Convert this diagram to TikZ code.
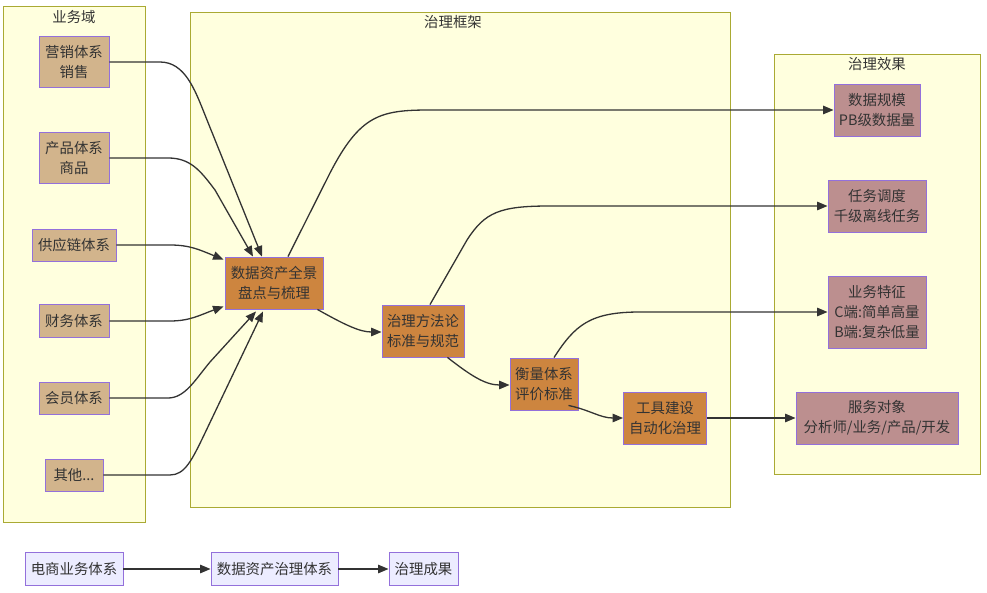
\documentclass[tikz,border=0pt]{standalone}
\usepackage{fontspec}
\setmainfont{Noto Sans CJK SC}
\usetikzlibrary{arrows.meta,calc}
\definecolor{txt}{HTML}{333333}
\definecolor{clfill}{HTML}{FFFFDE}
\definecolor{cldraw}{HTML}{AAAA33}
\definecolor{nborder}{HTML}{9370DB}
\definecolor{tan}{HTML}{D2B48C}
\definecolor{orng}{HTML}{CD853F}
\definecolor{rosy}{HTML}{BC8F8F}
\definecolor{lav}{HTML}{ECECFF}
\tikzset{
  cluster/.style={draw=cldraw, fill=clfill, line width=0.9pt, anchor=north west, inner sep=0pt},
  ctitle/.style={text=txt, inner sep=0pt},
  base/.style={draw=nborder, line width=0.9pt, text=txt, align=center, inner sep=0pt, font=\fontsize{14.4}{20}\selectfont},
  biz/.style={base, fill=tan},
  gov/.style={base, fill=orng},
  eff/.style={base, fill=rosy},
  leg/.style={base, fill=lav},
  conn/.style={draw=txt, line width=1.3pt, -{Triangle[length=10.5pt,width=8.5pt]}},
}
\begin{document}
\begin{tikzpicture}[x=1pt,y=-1pt, font=\fontsize{14.4}{20}\selectfont]
\useasboundingbox (0,0) rectangle (987,593);
\fill[white] (0,0) rectangle (987,593);
% clusters
\node[cluster, minimum width=142, minimum height=516] (c1) at (3,6) {};
\node[ctitle] (t1) at (74,17) {业务域};
\node[cluster, minimum width=540, minimum height=495] (c2) at (190,12) {};
\node[ctitle] (t2) at (453,22) {治理框架};
\node[cluster, minimum width=206, minimum height=420] (c3) at (774,54) {};
\node[ctitle] (t3) at (877,64) {治理效果};
% business nodes
\node[biz, minimum width=70, minimum height=51] (m) at (74,62) {营销体系\\销售};
\node[biz, minimum width=70, minimum height=51] (p) at (74,158) {产品体系\\商品};
\node[biz, minimum width=84, minimum height=32] (s) at (74,245) {供应链体系};
\node[biz, minimum width=70, minimum height=33] (f) at (74,321) {财务体系};
\node[biz, minimum width=70, minimum height=32] (v) at (74,398) {会员体系};
\node[biz, minimum width=58, minimum height=32] (o) at (74,475) {其他...};
% governance nodes
\node[gov, minimum width=98, minimum height=52] (dz) at (274,283) {数据资产全景\\盘点与梳理};
\node[gov, minimum width=82, minimum height=52] (ff) at (423,331) {治理方法论\\标准与规范};
\node[gov, minimum width=68, minimum height=52] (hl) at (544,384) {衡量体系\\评价标准};
\node[gov, minimum width=83, minimum height=52] (gj) at (665,418) {工具建设\\自动化治理};
% effect nodes
\node[eff, minimum width=86, minimum height=52] (e1) at (877,110) {数据规模\\PB级数据量};
\node[eff, minimum width=98, minimum height=52] (e2) at (877,206) {任务调度\\千级离线任务};
\node[eff, minimum width=98, minimum height=72] (e3) at (877,312) {业务特征\\C端:简单高量\\B端:复杂低量};
\node[eff, minimum width=162, minimum height=52] (e4) at (877,418) {服务对象\\分析师/业务/产品/开发};
% legend
\node[leg, minimum width=98, minimum height=33] (l1) at (74,569) {电商业务体系};
\node[leg, minimum width=127, minimum height=33] (l2) at (274.5,569) {数据资产治理体系};
\node[leg, minimum width=69, minimum height=33] (l3) at (423.5,569) {治理成果};
% edges business -> dz
\draw[conn] (m.east) -- (160,62) .. controls (185,62) and (195,90) .. (205,115) -- ($(dz.north)+(-12,0)$);
\draw[conn] (p.east) -- (168,158) .. controls (190,158) and (200,170) .. (215,190) -- ($(dz.north)+(-21,0)$);
\draw[conn] (s.east) -- (170,245) .. controls (190,245) and (200,250) .. ($(dz.north west)+(-1,3)$);
\draw[conn] (f.east) -- (170,321) .. controls (190,321) and (200,315) .. ($(dz.south west)+(-1,-3)$);
\draw[conn] (v.east) -- (168,398) .. controls (185,398) and (195,380) .. (210,362) -- ($(dz.south)+(-18,2)$);
\draw[conn] (o.east) -- (170,475) .. controls (185,475) and (192,460) .. (205,433) -- ($(dz.south)+(-11,2)$);
% framework chain
\draw[conn] ($(dz.south east)+(-6,0)$) .. controls (345,325) and (360,332) .. ($(ff.west)+(0,1)$);
\draw[conn] ($(ff.south east)+(-17,0)$) .. controls (470,375) and (485,385) .. ($(hl.west)+(0,1)$);
\draw[conn] ($(hl.south east)+(-10,-5)$) .. controls (590,410) and (600,418) .. (gj.west);
\draw[conn] (gj.east) -- (e4.west);
% framework -> effects
\draw[conn] ($(dz.north)+(14,0)$) -- (330,173) .. controls (360,115) and (380,110) .. (430,110) -- (e1.west);
\draw[conn] ($(ff.north)+(7,0)$) -- (467,240) .. controls (485,212) and (500,206) .. (550,206) -- (e2.west);
\draw[conn] ($(hl.north)+(10,0)$) .. controls (575,325) and (590,312) .. (640,312) -- (e3.west);
% legend edges
\draw[conn] (l1.east) -- (l2.west);
\draw[conn] (l2.east) -- (l3.west);
\end{tikzpicture}
\end{document}
